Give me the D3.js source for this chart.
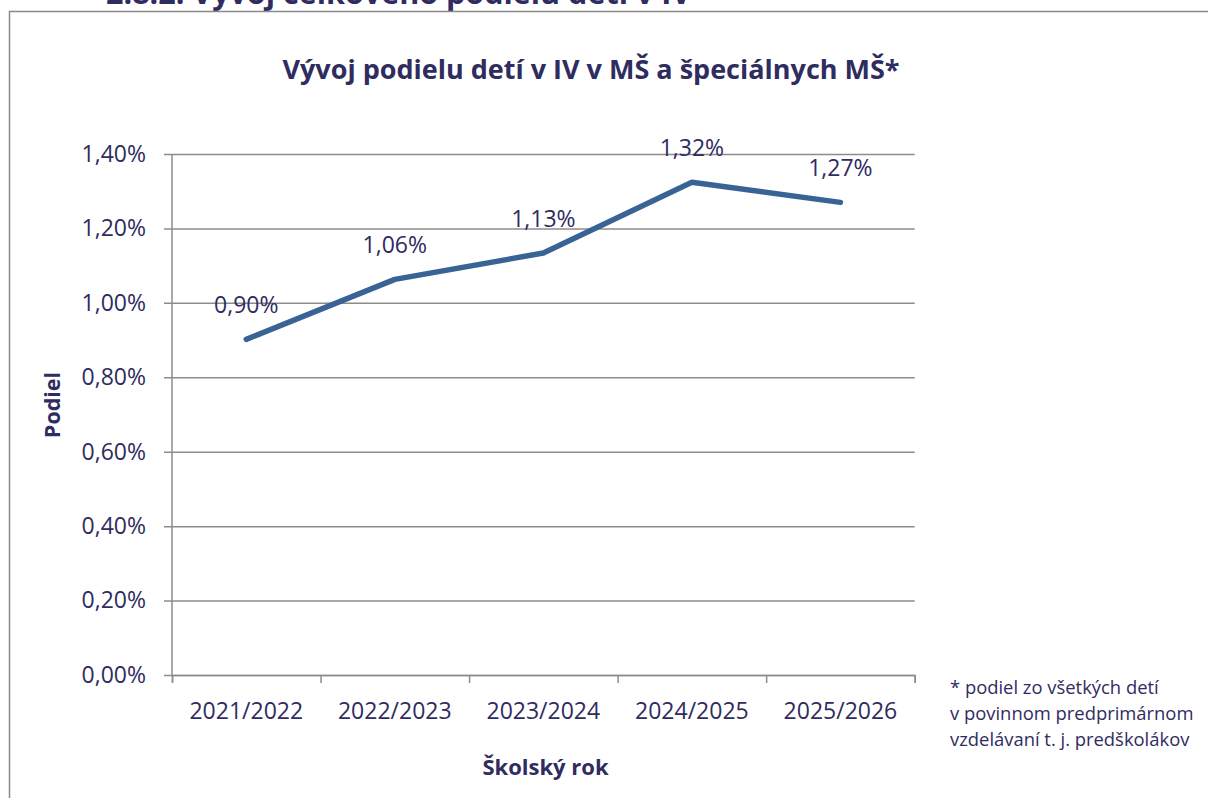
<!DOCTYPE html>
<html><head><meta charset="utf-8">
<script src="https://cdn.jsdelivr.net/npm/d3@7"></script>
<style>html,body{margin:0;padding:0;background:#fff;overflow:hidden}</style>
</head><body>
<svg id="c" width="1208" height="798"></svg>
<script>
const categories = ["2021/2022","2022/2023","2023/2024","2024/2025","2025/2026"];
const values = [0.902, 1.063, 1.134, 1.324, 1.270];
const yTicks = [0, 0.2, 0.4, 0.6, 0.8, 1.0, 1.2, 1.4];
const pageHeading = "2.8.2. Vývoj celkového podielu detí v IV";
const chartTitle = "Vývoj podielu detí v IV v MŠ a špeciálnych MŠ*";
const yTitle = "Podiel";
const xTitle = "Školský rok";
const footnote = ["* podiel zo všetkých detí","v povinnom predprimárnom","vzdelávaní t. j. predškolákov"];

const txt = "#2f2c5f", grid = "#8c8c8c", lineCol = "#3a6395";
const font = "'Open Sans', sans-serif";
const svg = d3.select("#c");
const m = {l:172, r:914.7, t:154, b:675};
const x = d3.scaleBand().domain(categories).range([m.l, m.r]);
const y = d3.scaleLinear().domain([0, 1.4]).range([m.b, m.t]);
const fmt = v => v.toFixed(2).replace(".", ",") + "%";

// page heading (cut off at top, as in the source page)
svg.append("text").attr("x",106).attr("y",4).attr("font-family",font).attr("font-weight",700)
  .attr("font-size",30.5).attr("fill",txt).text(pageHeading);

// chart frame
svg.append("rect").attr("x",9.5).attr("y",11.5).attr("width",1210).attr("height",800)
  .attr("fill","#fff").attr("stroke","#8a8a8a").attr("stroke-width",1.5);

// title
svg.append("text").attr("x",591).attr("y",79).attr("text-anchor","middle").attr("font-family",font)
  .attr("font-weight",700).attr("font-size",27).attr("fill",txt).text(chartTitle);

// y axis + gridlines
const yAxis = d3.axisLeft(y).tickValues(yTicks).tickSize(m.r - m.l + 8).tickFormat(fmt).tickPadding(18);
const yg = svg.append("g").attr("transform",`translate(${m.r},0)`).call(yAxis);
yg.select(".domain").remove();
yg.selectAll("line").attr("stroke",grid).attr("stroke-width",1.5);
yg.selectAll("text").attr("font-family",font).attr("font-size",23).attr("fill",txt);
svg.append("line").attr("x1",m.l).attr("x2",m.l).attr("y1",m.t).attr("y2",m.b)
  .attr("stroke",grid).attr("stroke-width",1.5);

// x axis
const xb = d3.scaleLinear().domain([0, categories.length]).range([m.l, m.r]);
const xg = svg.append("g").attr("transform",`translate(0,${m.b})`)
  .call(d3.axisBottom(xb).tickValues(d3.range(categories.length+1)).tickSize(8).tickFormat(""));
xg.select(".domain").attr("stroke",grid).attr("stroke-width",1.5);
xg.selectAll("line").attr("stroke",grid).attr("stroke-width",1.5);
svg.append("g").selectAll("text").data(categories).join("text")
  .attr("x",d=>x(d)+x.bandwidth()/2).attr("y",m.b+44).attr("text-anchor","middle")
  .attr("font-family",font).attr("font-size",23).attr("fill",txt).text(d=>d);

// axis titles
svg.append("text").attr("transform","translate(60,405) rotate(-90)").attr("text-anchor","middle")
  .attr("font-family",font).attr("font-weight",700).attr("font-size",21.5).attr("fill",txt).text(yTitle);
svg.append("text").attr("x",545.5).attr("y",775).attr("text-anchor","middle")
  .attr("font-family",font).attr("font-weight",700).attr("font-size",22).attr("fill",txt).text(xTitle);

// line
const cx = (d,i) => x(categories[i]) + x.bandwidth()/2;
svg.append("path").datum(values)
  .attr("d", d3.line().x((d,i)=>cx(d,i)).y(d=>y(d)))
  .attr("fill","none").attr("stroke",lineCol).attr("stroke-width",5.5)
  .attr("stroke-linecap","round").attr("stroke-linejoin","round");

// data labels
svg.append("g").selectAll("text").data(values).join("text")
  .attr("x",(d,i)=>cx(d,i)).attr("y",d=>y(d)-34).attr("dy","0.35em").attr("text-anchor","middle")
  .attr("font-family",font).attr("font-size",23).attr("fill",txt).text(fmt);

// footnote
svg.append("g").selectAll("text").data(footnote).join("text")
  .attr("x",950).attr("y",(d,i)=>694+i*26)
  .attr("font-family",font).attr("font-size",18.4).attr("fill",txt).text(d=>d);
</script>
</body></html>
